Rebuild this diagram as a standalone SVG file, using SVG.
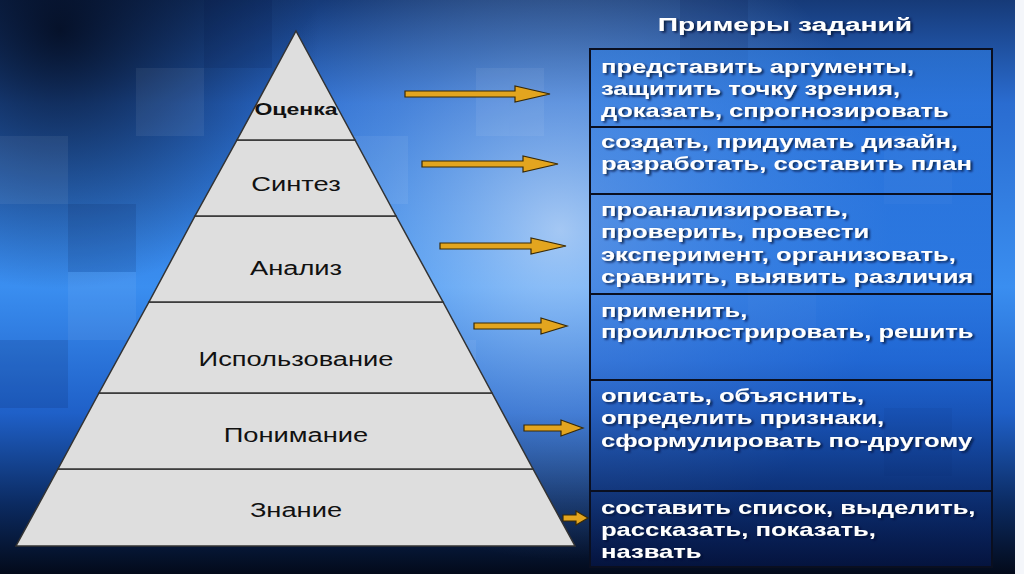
<svg xmlns="http://www.w3.org/2000/svg" width="1024" height="574" viewBox="0 0 1024 574">
<defs>
<linearGradient id="bg" x1="0" y1="0" x2="0" y2="1">
<stop offset="0" stop-color="#163a78"/>
<stop offset="0.18" stop-color="#2a6cd0"/>
<stop offset="0.5" stop-color="#3a8ef0"/>
<stop offset="0.72" stop-color="#1f60c8"/>
<stop offset="0.88" stop-color="#0b2a60"/>
<stop offset="1" stop-color="#030a1a"/>
</linearGradient>
<radialGradient id="glow" cx="560" cy="230" r="330" gradientUnits="userSpaceOnUse">
<stop offset="0" stop-color="#ffffff" stop-opacity="0.55"/>
<stop offset="0.6" stop-color="#bfe0ff" stop-opacity="0.2"/>
<stop offset="1" stop-color="#bfe0ff" stop-opacity="0"/>
</radialGradient>
<radialGradient id="dark" cx="60" cy="30" r="260" gradientUnits="userSpaceOnUse">
<stop offset="0" stop-color="#020818" stop-opacity="0.85"/>
<stop offset="1" stop-color="#020818" stop-opacity="0"/>
</radialGradient>
<linearGradient id="tbl" x1="0" y1="0" x2="0" y2="1">
<stop offset="0" stop-color="#2f7fe6" stop-opacity="0.55"/>
<stop offset="0.6" stop-color="#1a5fd0" stop-opacity="0.6"/>
<stop offset="1" stop-color="#05164a" stop-opacity="0.7"/>
</linearGradient>
<filter id="sh" x="-5%" y="-20%" width="110%" height="140%">
<feDropShadow dx="1.5" dy="1.5" stdDeviation="0.8" flood-color="#001030" flood-opacity="0.8"/>
</filter>
<style>
.tier{fill:#dedede;stroke:#333;stroke-width:1.5}
.lbl{font-family:"Liberation Sans",Arial,sans-serif;font-size:21px;fill:#111;text-anchor:middle}
.ex{font-family:"Liberation Sans",Arial,sans-serif;font-size:18px;font-weight:bold;fill:#fff;filter:url(#sh)}
.arrow{fill:#e3a51f;stroke:#3a2a05;stroke-width:1.2}
.row{fill:none;stroke:#0a0f20;stroke-width:2}
</style>
</defs>
<g id="background">
<rect width="1024" height="574" fill="url(#bg)"/>
<rect width="1024" height="574" fill="url(#glow)"/>
<rect width="1024" height="574" fill="url(#dark)"/>
<g fill="#ffffff" opacity="0.06">
<rect x="0" y="136" width="68" height="68"/><rect x="136" y="68" width="68" height="68"/>
<rect x="340" y="136" width="68" height="68"/><rect x="476" y="68" width="68" height="68"/>
<rect x="68" y="272" width="68" height="68"/><rect x="408" y="340" width="68" height="68"/>
<rect x="884" y="136" width="68" height="68"/><rect x="748" y="272" width="68" height="68"/>
</g>
<g fill="#001040" opacity="0.12">
<rect x="68" y="204" width="68" height="68"/><rect x="204" y="0" width="68" height="68"/>
<rect x="0" y="340" width="68" height="68"/><rect x="884" y="408" width="68" height="68"/>
<rect x="680" y="0" width="68" height="68"/>
</g>
<rect x="1015" y="0" width="9" height="574" fill="#f4f6fa"/>
</g>
<g id="pyramid">
<g id="tier-znanie"><polygon class="tier" points="58,469 533,469 575,546 16,546"/><text class="lbl" transform="translate(296 517) scale(1.3 1)">Знание</text></g>
<g id="tier-ponimanie"><polygon class="tier" points="99,393 492,393 533,469 58,469"/><text class="lbl" transform="translate(296 442) scale(1.3 1)">Понимание</text></g>
<g id="tier-ispolzovanie"><polygon class="tier" points="149,302 443,302 492,393 99,393"/><text class="lbl" transform="translate(296 366) scale(1.3 1)">Использование</text></g>
<g id="tier-analiz"><polygon class="tier" points="195,216 396,216 443,302 149,302"/><text class="lbl" transform="translate(296 275) scale(1.3 1)">Анализ</text></g>
<g id="tier-sintez"><polygon class="tier" points="237,140 355,140 396,216 195,216"/><text class="lbl" transform="translate(296 191) scale(1.3 1)">Синтез</text></g>
<g id="tier-ocenka"><polygon class="tier" points="296,31 355,140 237,140"/><text class="lbl" transform="translate(296 115) scale(1.44 1)" style="font-size:16px;font-weight:bold">Оценка</text></g>
</g>
<g id="connectors">
<polygon class="arrow" points="405,91 515,91 515,86 550,94 515,102 515,97 405,97"/>
<polygon class="arrow" points="422,161 523,161 523,156 558,164 523,172 523,167 422,167"/>
<polygon class="arrow" points="440,243 531,243 531,238 566,246 531,254 531,249 440,249"/>
<polygon class="arrow" points="474,323 541,323 541,318 567,326 541,334 541,329 474,329"/>
<polygon class="arrow" points="524,425 561,425 561,420 583,428 561,436 561,431 524,431"/>
<polygon class="arrow" points="563,515 576,515 576,511 588,518 576,525 576,521 563,521"/>
</g>
<g id="header"><text transform="translate(785 31) scale(1.48 1)" style="font-family:'Liberation Sans',Arial,sans-serif;font-size:19px;font-weight:bold;fill:#fff;text-anchor:middle;filter:url(#sh)">Примеры заданий</text></g>
<g id="table">
<rect x="590" y="49" width="402" height="518" fill="url(#tbl)" stroke="#0a0f20" stroke-width="2"/>
<line class="row" x1="590" y1="127" x2="992" y2="127"/>
<line class="row" x1="590" y1="194" x2="992" y2="194"/>
<line class="row" x1="590" y1="294" x2="992" y2="294"/>
<line class="row" x1="590" y1="380" x2="992" y2="380"/>
<line class="row" x1="590" y1="491" x2="992" y2="491"/>
</g>
<g id="row-ocenka" transform="translate(601 0) scale(1.42 1)"><text class="ex" y="73">представить аргументы,</text><text class="ex" y="95">защитить точку зрения,</text><text class="ex" y="117">доказать, спрогнозировать</text></g>
<g id="row-sintez" transform="translate(601 0) scale(1.42 1)"><text class="ex" y="148">создать, придумать дизайн,</text><text class="ex" y="170">разработать, составить план</text></g>
<g id="row-analiz" transform="translate(601 0) scale(1.42 1)"><text class="ex" y="216">проанализировать,</text><text class="ex" y="238">проверить, провести</text><text class="ex" y="261">эксперимент, организовать,</text><text class="ex" y="283">сравнить, выявить различия</text></g>
<g id="row-ispolzovanie" transform="translate(601 0) scale(1.42 1)"><text class="ex" y="317">применить,</text><text class="ex" y="338">проиллюстрировать, решить</text></g>
<g id="row-ponimanie" transform="translate(601 0) scale(1.42 1)"><text class="ex" y="402">описать, объяснить,</text><text class="ex" y="424">определить признаки,</text><text class="ex" y="447">сформулировать по-другому</text></g>
<g id="row-znanie" transform="translate(601 0) scale(1.42 1)"><text class="ex" y="514">составить список, выделить,</text><text class="ex" y="536">рассказать, показать,</text><text class="ex" y="558">назвать</text></g>
</svg>
